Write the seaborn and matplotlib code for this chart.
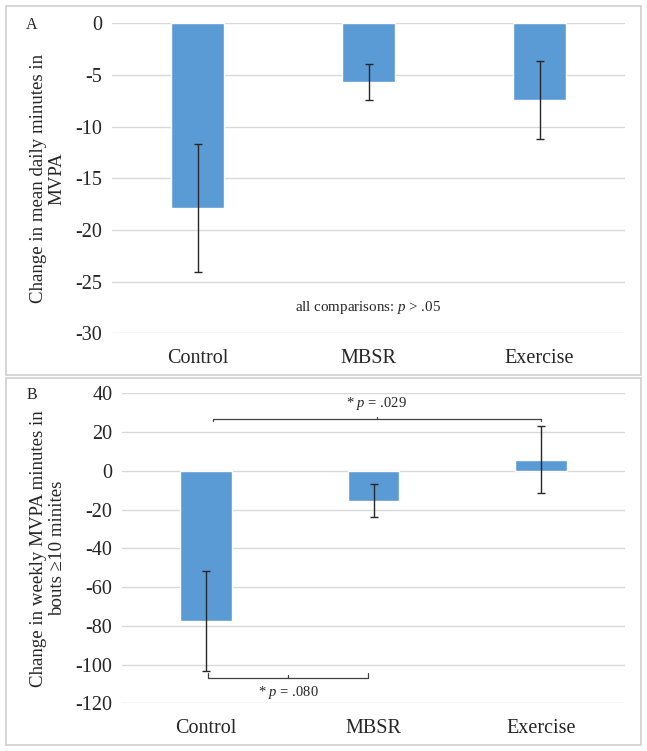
import numpy as np
import pandas as pd
import matplotlib
matplotlib.use("Agg")
import matplotlib.pyplot as plt
from matplotlib.patches import Rectangle
import seaborn as sns

groups = ['Control', 'MBSR', 'Exercise']
daily_change = [-17.9, -5.7, -7.4]
daily_err = [6.2, 1.75, 3.8]
weekly_change = [-77.3, -15.5, 5.7]
weekly_err = [25.8, 8.6, 17.2]

sns.set_style("white")
plt.rcParams['font.family'] = ['Liberation Serif', 'DejaVu Serif']
plt.rcParams['axes.unicode_minus'] = False
plt.rcParams['mathtext.fontset'] = 'custom'
plt.rcParams['mathtext.rm'] = 'Liberation Serif'
plt.rcParams['mathtext.it'] = 'Liberation Serif:italic'

W, H = 647, 751
fig = plt.figure(figsize=(W / 100, H / 100), dpi=100)

def fbox(x0, y0, x1, y1):
    # pixel box (top-left origin) -> figure fraction rect
    return [x0 / W, 1 - y1 / H, (x1 - x0) / W, (y1 - y0) / H]

# panel frames
for (x0, y0, x1, y1) in [(6, 6, 641, 375), (6, 378, 641, 745)]:
    l, b, w, h = fbox(x0, y0, x1, y1)
    fig.patches.append(Rectangle((l, b), w, h, transform=fig.transFigure,
                                 fill=False, edgecolor='#d0d0d0', linewidth=1.2))

axA = fig.add_axes(fbox(112, 23.3, 625, 333.3))
axB = fig.add_axes(fbox(122, 393.3, 625, 703.3))

bar_color = '#5b9bd5'

def draw(ax, vals, errs, ylim, step, ylabel):
    df = pd.DataFrame({'group': groups, 'value': vals})
    sns.barplot(data=df, x='group', y='value', color=bar_color, width=0.31,
                saturation=1, errorbar=None, ax=ax, zorder=2)
    ax.errorbar(range(len(groups)), vals, yerr=errs, fmt='none',
                ecolor='#262626', elinewidth=1, capsize=3, capthick=1, zorder=3)
    ax.set_ylim(*ylim)
    ax.set_xlim(-0.5, 2.5)
    ax.set_yticks(np.arange(ylim[0], ylim[1] + step, step))
    ax.yaxis.grid(True, color='#d9d9d9', linewidth=1, zorder=0)
    ax.set_axisbelow(True)
    for s in ax.spines.values():
        s.set_visible(False)
    ax.tick_params(axis='both', length=0, labelsize=14.5)
    ax.tick_params(axis='y', pad=7)
    ax.tick_params(axis='x', pad=11)
    ax.set_xlabel('')
    ax.set_ylabel(ylabel, fontsize=13.6, linespacing=1.1, labelpad=7)

draw(axA, daily_change, daily_err, (-30, 0), 5,
     'Change in mean daily minutes in\nMVPA')
draw(axB, weekly_change, weekly_err, (-120, 40), 20,
     'Change in weekly MVPA minutes in\nbouts \u226510 minites')

axA.text(1.0, -27.5, 'all comparisons: $p$ > .05', ha='center', va='center', fontsize=10.8)

# significance brackets
bk = dict(color='#404040', linewidth=0.9, clip_on=False)
axB.plot([0.04, 0.04, 2.0, 2.0], [25.6, 26.8, 26.8, 25.6], **bk)
axB.plot([1.02, 1.02], [26.8, 28.0], **bk)
axB.text(1.02, 34.5, '* $p$ = .029', ha='center', va='center', fontsize=10.5)

axB.plot([0.01, 0.01, 0.97, 0.97], [-104.6, -106.8, -106.8, -104.6], **bk)
axB.plot([0.49, 0.49], [-106.8, -105.2], **bk)
axB.text(0.49, -114.5, '* $p$ = .080', ha='center', va='center', fontsize=10.5)

fig.text(32 / W, 1 - 25 / H, 'A', ha='center', va='center', fontsize=11.5)
fig.text(32 / W, 1 - 395 / H, 'B', ha='center', va='center', fontsize=11.5)

fig.savefig('out.png', dpi=100)
